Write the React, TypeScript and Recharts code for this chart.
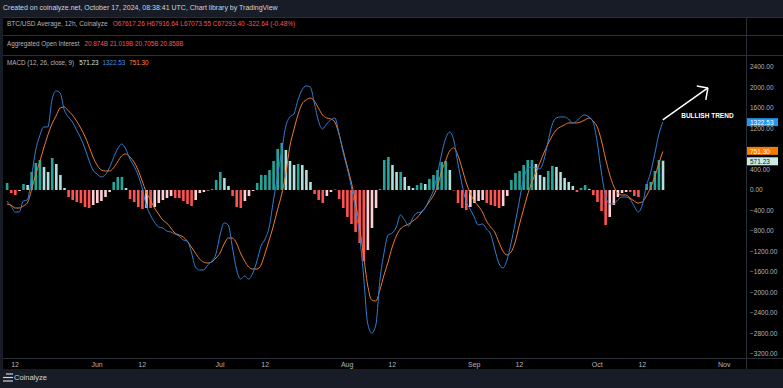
import React from 'react';
import { ComposedChart, Bar, Line, XAxis, YAxis, Cell, ReferenceLine, ReferenceDot } from 'recharts';

// one sample per day, first sample is May 10 2024
const START = Date.UTC(2024, 4, 10);
const DAY = 86400000;

const macd = [
  -215, -312, -429, -429, -215, -195, 254, 761, 1053, 1229,
  1229, 1755, 1931, 1892, 1560, 1424, 1326, 1170, 1014, 819,
  585, 390, 312, 254, 293, 429, 624, 800, 897, 800,
  605, 468, 293, 39, -293, -488, -624, -722, -741, -800,
  -819, -858, -897, -975, -995, -1209, -1502, -1560, -1560, -1463,
  -1385, -1248, -878, -644, -683, -1112, -1541, -1736, -1677, -1736,
  -1619, -1385, -1092, -956, -722, -215, 254, 741, 1229, 1424,
  1482, 1755, 1950, 2028, 2009, 1697, 1346, 1190, 1287, 1365,
  1404, 1112, 741, 429, 78, -371, -858, -1658, -2594, -2789,
  -2633, -1755, -1229, -878, -839, -722, -488, -585, -702, -546,
  -449, -429, -351, -195, -20, 293, 683, 995, 1131, 975,
  527, 117, -215, -371, -527, -683, -663, -761, -858, -1151,
  -1424, -1521, -1365, -1034, -644, -215, 195, 410, 449, 429,
  410, 585, 936, 1268, 1404, 1424, 1424, 1385, 1307, 1346,
  1424, 1463, 1424, 1326, 936, 351, -98, -273, -273, -195,
  -137, -137, -176, -312, -429, -293, 78, 332, 683, 1073,
  1322.53,
];

const signal = [
  -273, -293, -351, -351, -312, -254, 0, 293, 546, 819,
  1073, 1287, 1443, 1599, 1619, 1541, 1463, 1346, 1209, 1053,
  858, 644, 488, 390, 371, 371, 429, 546, 663, 702,
  644, 546, 390, 176, -39, -195, -351, -468, -585, -644,
  -741, -839, -878, -917, -995, -1112, -1229, -1346, -1404, -1424,
  -1404, -1326, -1229, -1053, -936, -936, -1034, -1229, -1385, -1502,
  -1541, -1541, -1463, -1229, -975, -702, -390, -98, 293, 839,
  1170, 1463, 1677, 1755, 1794, 1736, 1599, 1463, 1404, 1385,
  1326, 1092, 780, 468, 156, -215, -702, -1268, -1853, -2145,
  -2165, -1950, -1658, -1404, -1112, -897, -761, -702, -663, -605,
  -546, -449, -351, -234, -117, 59, 351, 566, 761, 819,
  683, 429, 156, -59, -215, -312, -429, -605, -722, -819,
  -1014, -1190, -1268, -1209, -1014, -683, -390, -98, 137, 332,
  527, 722, 897, 1053, 1170, 1229, 1268, 1307, 1307, 1307,
  1326, 1365, 1404, 1346, 1229, 975, 624, 312, 78, -59,
  -98, -98, -156, -215, -254, -234, -117, 39, 254, 507,
  751.3,
];

const hist = [
  137, -59, -98, -20, 117, 98, 351, 527, 585, 449,
  351, 624, 507, 293, 39, -137, -195, -234, -254, -332,
  -351, -293, -254, -215, -137, -39, 156, 254, 254, 39,
  -176, -234, -332, -371, -351, -351, -332, -254, -195, -156,
  -117, -156, -156, -215, -273, -312, -195, -59, -39, -10,
  20, 195, 351, 234, 78, -117, -332, -351, -215, -117,
  -20, 137, 293, 293, 390, 566, 800, 917, 780, 566,
  488, 507, 488, 390, 156, -78, -195, -254, -117, -39,
  10, -176, -351, -527, -663, -819, -1034, -1385, -1170, -741,
  -351, 20, 585, 644, 488, 351, 351, 254, 78, 39,
  98, 137, 117, 215, 293, 390, 546, 566, 390, -10,
  -254, -351, -390, -332, -254, -215, -195, -254, -293, -312,
  -351, -312, -117, 195, 332, 371, 488, 585, 585, 507,
  293, 254, 371, 468, 449, 351, 234, 156, 78, -39,
  39, 98, 20, -98, -234, -410, -683, -527, -293, -137,
  -59, -39, -39, -117, -137, 0, 117, 156, 371, 585,
  571.23,
];

const tickDates = [
  '2024-05-12', '2024-06-01', '2024-06-12', '2024-07-01', '2024-07-12', '2024-08-01',
  '2024-08-12', '2024-09-01', '2024-09-12', '2024-10-01', '2024-10-12', '2024-11-01',
];
const tickLabels = ['12', 'Jun', '12', 'Jul', '12', 'Aug', '12', 'Sep', '12', 'Oct', '12', 'Nov'];
const yTicks = [2400, 2000, 1600, 1200, 800, 400, 0, -400, -800, -1200, -1600, -2000, -2400, -2800, -3200];

// annotation arrow, in [day, value]
const arrowLine = [[160, 1365], [171, 1989]];
const arrowBarbs = [[168.3, 2028], [170.5, 1755]];
const noteAt = [164.5, 1443];

const tickDays = tickDates.map((s) => (Date.parse(s) - START) / DAY);
const data = macd.map((m, i) => ({ day: i, macd: m, signal: signal[i], hist: hist[i] }));
const last = macd.length - 1;

// price-scale labels that sit under a last-value tag are hidden, as on the original
const tagValues = [macd[last], signal[last], hist[last]];
const shownTicks = yTicks.filter((t) => tagValues.every((v) => Math.abs(v - t) > 100));

const FONT = '"Liberation Sans", Arial, sans-serif';
const GREY = '#b2b5be';
const LINE = '#2a2e39';
const BLUE = '#2f7fd6';
const ORANGE = '#f07a2a';

function histColor(i: number) {
  const v = hist[i];
  const p = i > 0 ? hist[i - 1] : v;
  if (v >= 0) return v >= p ? '#26a69a' : '#b2dfdb';
  return v <= p ? '#ff5252' : '#ffcdd2';
}

const fmt = (v: number) => (v < 0 ? '\u2212' : '') + Math.abs(v).toFixed(2);

// last-value tag drawn on the price scale; dy nudges tags apart
function priceTag(value: number, bg: string, fg: string, dy = 0) {
  return (props: any) => {
    const vb = props.viewBox || {};
    const x = vb.x + vb.width;
    const y = vb.y + dy;
    return (
      <g>
        <rect x={x + 1} y={y - 4} width={31} height={8} fill={bg} />
        <text x={x + 4} y={y + 0.3} fill={fg} fontSize={6.5} fontFamily={FONT} dominantBaseline="central">
          {fmt(value)}
        </text>
      </g>
    );
  };
}

export default function App() {
  return (
    <div style={{ position: 'absolute', left: 0, top: 0, width: 783, height: 388, background: '#181c27', overflow: 'hidden', fontFamily: FONT }}>
      <div style={{ position: 'absolute', left: 3, top: 3, fontSize: 7, color: '#d1d4dc', lineHeight: '10px', whiteSpace: 'nowrap' }}>
        Created on coinalyze.net, October 17, 2024, 08:38:41 UTC, Chart library by TradingView
      </div>
      <div style={{ position: 'absolute', left: 3, top: 17, width: 780, height: 352, background: '#000' }} />
      <div style={{ position: 'absolute', left: 3, top: 17, width: 780, height: 1, background: LINE }} />
      <div style={{ position: 'absolute', left: 3, top: 35, width: 780, height: 1, background: LINE }} />
      <div style={{ position: 'absolute', left: 3, top: 55, width: 780, height: 1, background: LINE }} />
      <div style={{ position: 'absolute', left: 3, top: 358, width: 780, height: 1, background: LINE }} />
      <div style={{ position: 'absolute', left: 746, top: 17, width: 1, height: 352, background: LINE }} />

      <div style={{ position: 'absolute', left: 7, top: 19, fontSize: 6.5, lineHeight: '10px', color: GREY, whiteSpace: 'nowrap' }}>
        BTC/USD Average, 12h, Coinalyze
        <span style={{ color: '#f7525f', marginLeft: 5 }}>O67617.26 H67916.64 L67073.55 C67293.40 -322.64 (-0.48%)</span>
      </div>
      <div style={{ position: 'absolute', left: 7, top: 39, fontSize: 6.3, lineHeight: '10px', color: GREY, whiteSpace: 'nowrap' }}>
        Aggregated Open Interest
        <span style={{ color: '#f7525f', marginLeft: 5 }}>20.874B 21.019B 20.705B 20.858B</span>
      </div>
      <div style={{ position: 'absolute', left: 7, top: 58, fontSize: 6.3, lineHeight: '10px', color: GREY, whiteSpace: 'nowrap', zIndex: 2 }}>
        MACD (12, 26, close, 9)
        <span style={{ color: '#c8ece4', marginLeft: 5 }}>{hist[last].toFixed(2)}</span>
        <span style={{ color: '#3d95e8', marginLeft: 4 }}>{macd[last].toFixed(2)}</span>
        <span style={{ color: '#ff8a3d', marginLeft: 4 }}>{signal[last].toFixed(2)}</span>
      </div>

      <div style={{ position: 'absolute', left: 0, top: 0 }}>
        <ComposedChart width={783} height={370} data={data} margin={{ top: 55, right: 0, left: 4, bottom: 0 }}>
          <XAxis
            type="number"
            dataKey="day"
            domain={[-0.7, 180.3]}
            allowDataOverflow
            ticks={tickDays}
            interval={0}
            tickFormatter={(v, i) => tickLabels[i]}
            axisLine={false}
            tickLine={false}
            tickSize={0}
            tickMargin={4}
            height={12}
            tick={{ fill: GREY, fontSize: 7, fontFamily: FONT }}
          />
          <YAxis
            orientation="right"
            width={37}
            domain={[-3276, 2632]}
            allowDataOverflow
            ticks={shownTicks}
            interval={0}
            tickFormatter={fmt}
            axisLine={false}
            tickLine={false}
            tickSize={0}
            tickMargin={4}
            tick={{ fill: GREY, fontSize: 6.5, fontFamily: FONT, textAnchor: 'start' }}
          />
          <Bar dataKey="hist" barSize={2.6} isAnimationActive={false}>
            {data.map((d, i) => (
              <Cell key={i} fill={histColor(i)} />
            ))}
          </Bar>
          <Line type="monotone" dataKey="signal" stroke={ORANGE} strokeWidth={1} dot={false} isAnimationActive={false} />
          <Line type="monotone" dataKey="macd" stroke={BLUE} strokeWidth={1} dot={false} isAnimationActive={false} />

          <ReferenceLine segment={[{ x: arrowLine[0][0], y: arrowLine[0][1] }, { x: arrowLine[1][0], y: arrowLine[1][1] }]} stroke="#fff" strokeWidth={1.5} ifOverflow="visible" />
          {arrowBarbs.map((b, i) => (
            <ReferenceLine key={i} segment={[{ x: b[0], y: b[1] }, { x: arrowLine[1][0], y: arrowLine[1][1] }]} stroke="#fff" strokeWidth={1.5} ifOverflow="visible" />
          ))}
          <ReferenceDot
            x={noteAt[0]}
            y={noteAt[1]}
            r={0}
            ifOverflow="visible"
            shape={(p: any) => (
              <text x={p.cx} y={p.cy} fill="#fff" fontSize={6.5} fontWeight="bold" fontFamily={FONT} dominantBaseline="central">
                BULLISH TREND
              </text>
            )}
          />

          <ReferenceLine y={macd[last]} stroke="none" ifOverflow="visible" label={priceTag(macd[last], '#2196f3', '#fff')} />
          <ReferenceLine y={signal[last]} stroke="none" ifOverflow="visible" label={priceTag(signal[last], '#f57c00', '#fff', -0.6)} />
          <ReferenceLine y={hist[last]} stroke="none" ifOverflow="visible" label={priceTag(hist[last], '#c8ece4', '#131722', 0.6)} />
        </ComposedChart>
      </div>

      <svg style={{ position: 'absolute', left: 3, top: 373 }} width={11} height={10}>
        <line x1={3} y1={1} x2={10} y2={1} stroke="#d1d4dc" strokeWidth={1.2} />
        <line x1={0} y1={4.5} x2={10} y2={4.5} stroke="#d1d4dc" strokeWidth={1.2} />
        <line x1={0} y1={8} x2={10} y2={8} stroke="#d1d4dc" strokeWidth={1.2} />
      </svg>
      <div style={{ position: 'absolute', left: 14, top: 373, fontSize: 7.5, lineHeight: '10px', color: '#d1d4dc' }}>Coinalyze</div>
    </div>
  );
}
